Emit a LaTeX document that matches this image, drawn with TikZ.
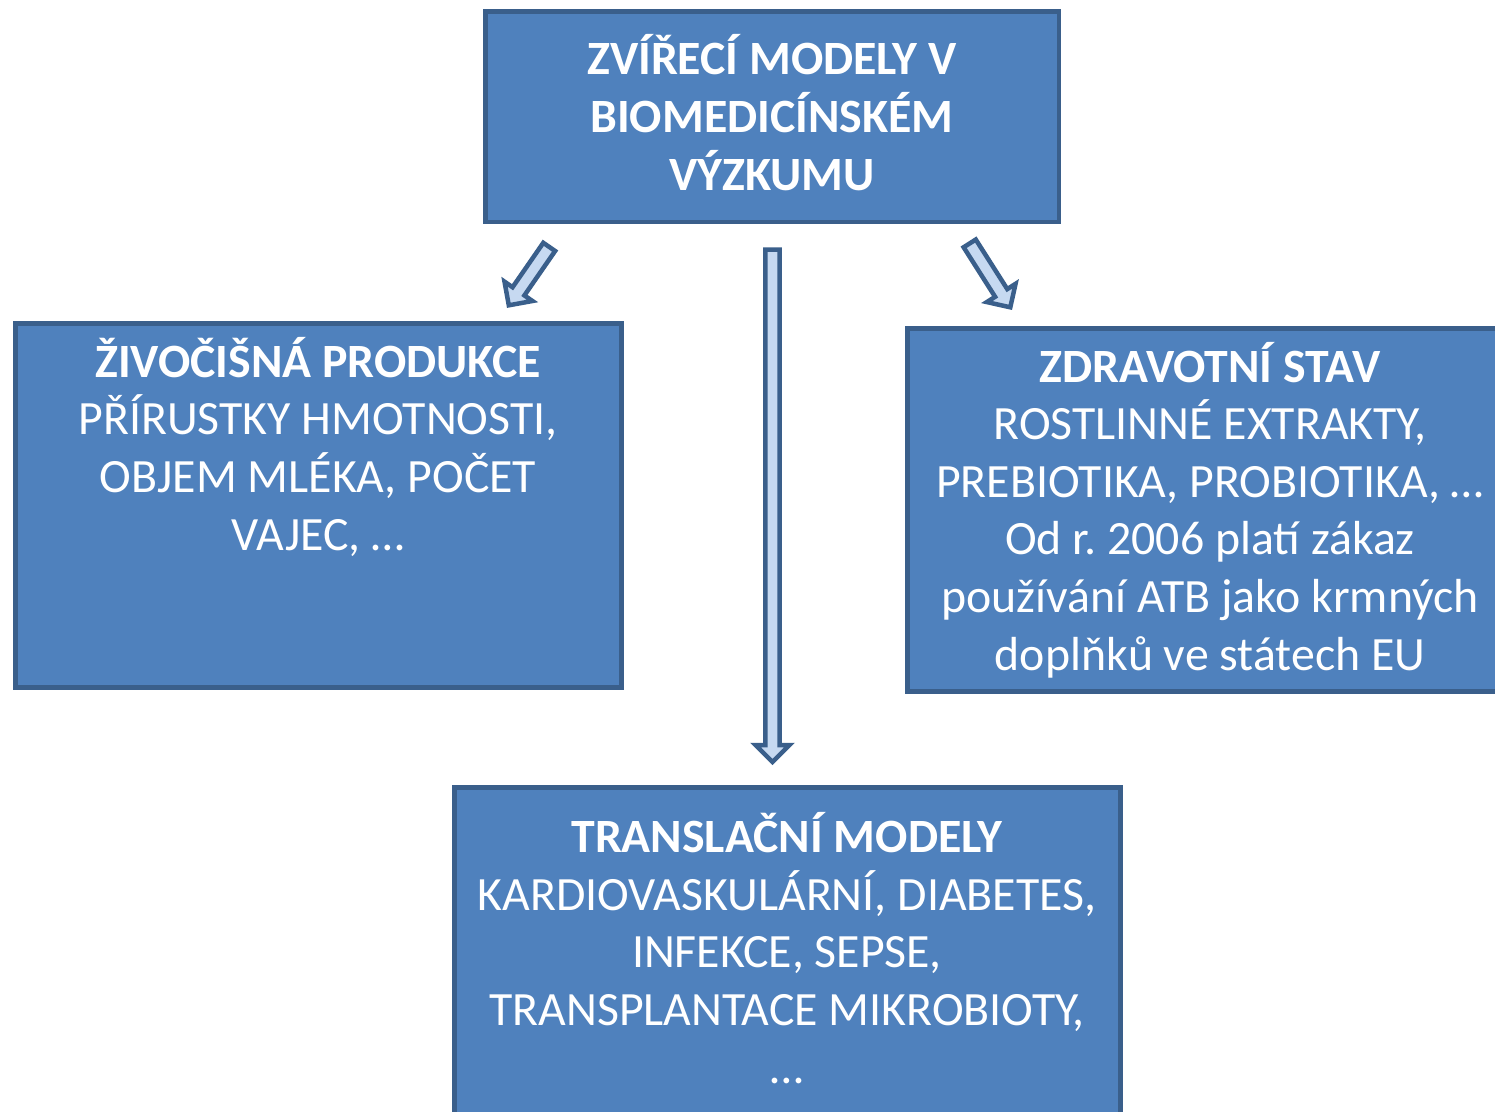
\documentclass[tikz,border=0pt]{standalone}
\usepackage{fontspec}
\setmainfont{Carlito}
\usetikzlibrary{calc}
\frenchspacing
\definecolor{boxfill}{HTML}{4F81BD}
\definecolor{boxline}{HTML}{3A5F8B}
\definecolor{arrfill}{HTML}{C6D9F1}
\tikzset{
  box/.style={draw=boxline, fill=boxfill, line width=4.5pt, rectangle, inner sep=0pt},
  boxtext/.style={text=white, align=center, inner sep=0pt, anchor=base,
    font=\fontsize{47.8pt}{57.6pt}\selectfont},
  blkarrow/.style={draw=boxline, fill=arrfill, line width=4.5pt, line join=miter},
}
\newcommand{\blockarrow}[2]{%
  \coordinate (#1-hb) at ($(#2)!17pt!(#1)$);
  \draw[blkarrow] ($(#1)!7.2pt!90:(#2)$) -- ($(#1-hb)!7.2pt!90:(#2)$)
    -- ($(#1-hb)!17pt!90:(#2)$) -- (#2) -- ($(#1-hb)!17pt!-90:(#2)$)
    -- ($(#1-hb)!7.2pt!-90:(#2)$) -- ($(#1)!7.2pt!-90:(#2)$) -- cycle;
}
\begin{document}
\begin{tikzpicture}[x=1pt,y=-1pt]
\useasboundingbox (0,0) rectangle (1495,1111);
\clip (0,0) rectangle (1495,1111);
% boxes
\node[box, minimum width=573.5pt, minimum height=210.5pt] (top) at (772.25,116.75) {};
\node[box, minimum width=606pt, minimum height=364pt] (left) at (318.5,505.5) {};
\node[box, minimum width=612.5pt, minimum height=363pt] (right) at (1213.75,510) {};
\node[box, minimum width=666pt, minimum height=342.5pt] (bottom) at (787.5,958.75) {};
% texts (anchor = baseline of last line)
\node[boxtext] (toptext) at (772,190) {\textbf{ZVÍŘECÍ MODELY V}\\\textbf{BIOMEDICÍNSKÉM}\\\textbf{VÝZKUMU}};
\node[boxtext] (lefttext) at (318,550) {\textbf{ŽIVOČIŠNÁ PRODUKCE}\\PŘÍRUSTKY HMOTNOSTI,\\OBJEM MLÉKA, POČET\\VAJEC, …};
\node[boxtext] (righttext) at (1210,670) {\textbf{ZDRAVOTNÍ STAV}\\ROSTLINNÉ EXTRAKTY,\\PREBIOTIKA, PROBIOTIKA, …\\Od r. 2006 platí zákaz\\používání ATB jako krmných\\doplňků ve státech EU};
\node[boxtext] (bottomtext) at (787,1083) {\textbf{TRANSLAČNÍ MODELY}\\KARDIOVASKULÁRNÍ, DIABETES,\\INFEKCE, SEPSE,\\TRANSPLANTACE MIKROBIOTY,\\…};
% arrows
\coordinate (la) at (549.2,246.9);
\coordinate (lb) at (508.8,305.3);
\coordinate (ma) at (772.5,249.5);
\coordinate (mb) at (772.5,762);
\coordinate (ra) at (969.7,243.4);
\coordinate (rb) at (1010.3,307.3);
\blockarrow{la}{lb}
\blockarrow{ma}{mb}
\blockarrow{ra}{rb}
\end{tikzpicture}
\end{document}
